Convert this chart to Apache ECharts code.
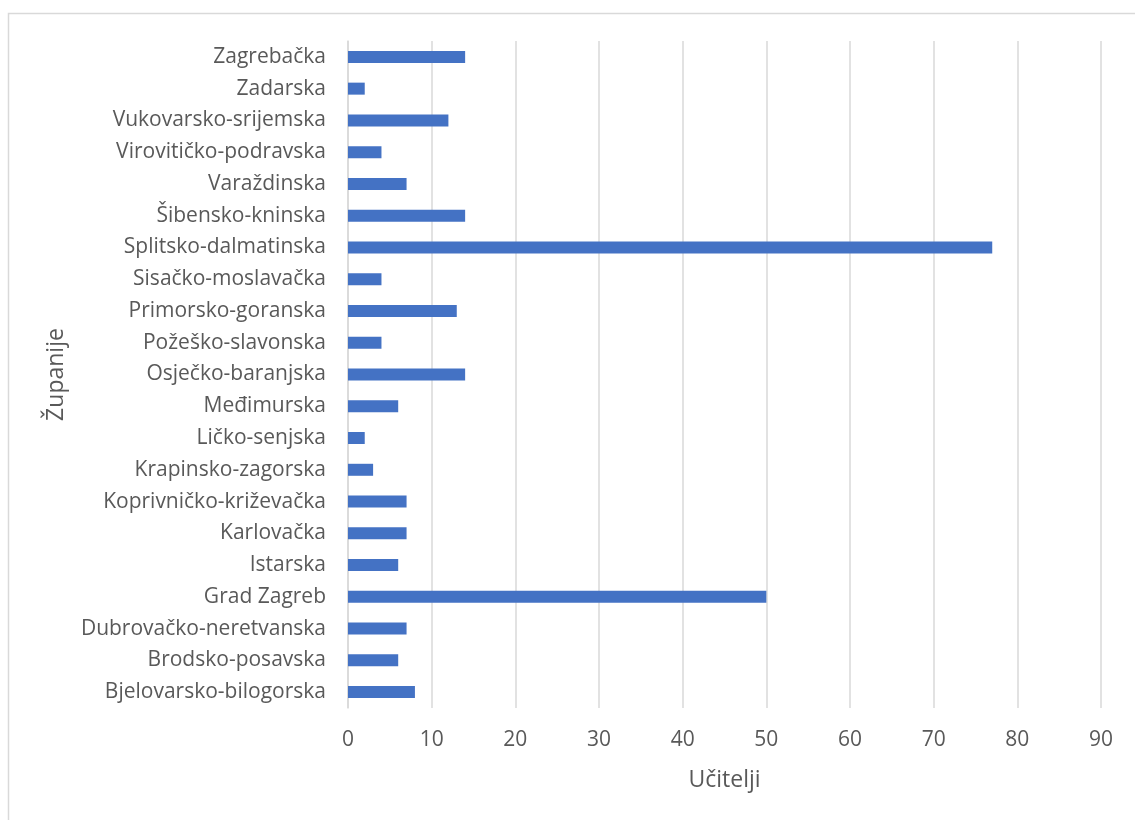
<!DOCTYPE html>
<html>
<head>
<meta charset="utf-8">
<script src="https://cdn.jsdelivr.net/npm/echarts@6/dist/echarts.min.js"></script>
<style>
html,body{margin:0;padding:0;background:#fff;}
#c{width:1135px;height:820px;}
</style>
</head>
<body>
<div id="c"></div>
<script>
const categories = [
  "Bjelovarsko-bilogorska","Brodsko-posavska","Dubrovačko-neretvanska","Grad Zagreb",
  "Istarska","Karlovačka","Koprivničko-križevačka","Krapinsko-zagorska","Ličko-senjska",
  "Međimurska","Osječko-baranjska","Požeško-slavonska","Primorsko-goranska",
  "Sisačko-moslavačka","Splitsko-dalmatinska","Šibensko-kninska","Varaždinska",
  "Virovitičko-podravska","Vukovarsko-srijemska","Zadarska","Zagrebačka"
];
const ucitelji = [8,6,7,50,6,7,7,3,2,6,14,4,13,4,77,14,7,4,12,2,14];
const xAxisName = "Učitelji";
const yAxisName = "Županije";

const font = "'Open Sans', sans-serif";
const txt = "#595959";
const chart = echarts.init(document.getElementById('c'));
chart.setOption({
  animation:false,
  backgroundColor:'#ffffff',
  graphic:[{type:'rect',shape:{x:8.5,y:13.5,width:1300,height:1000},style:{fill:'none',stroke:'#D9D9D9',lineWidth:1.5},silent:true}],
  grid:{left:348,right:34,top:41,bottom:112,containLabel:false},
  xAxis:{
    type:'value',min:0,max:90,interval:10,
    name:xAxisName,nameLocation:'middle',nameGap:61,
    nameTextStyle:{color:txt,fontSize:23,fontFamily:font},
    axisLine:{show:false},axisTick:{show:false},
    axisLabel:{color:txt,fontSize:21,fontFamily:font,margin:22},
    splitLine:{lineStyle:{color:'#D9D9D9',width:1.5}}
  },
  yAxis:{
    type:'category',data:categories,
    name:yAxisName,nameLocation:'middle',nameGap:280,nameRotate:90,
    nameTextStyle:{color:txt,fontSize:23,fontFamily:font},
    axisLine:{lineStyle:{color:'#D9D9D9',width:1.5}},axisTick:{show:false},
    axisLabel:{color:txt,fontSize:21,fontFamily:font,margin:22,padding:[2,0,0,0]}
  },
  series:[{type:'bar',data:ucitelji,barWidth:12,itemStyle:{color:'#4472C4'}}]
});
</script>
</body>
</html>
